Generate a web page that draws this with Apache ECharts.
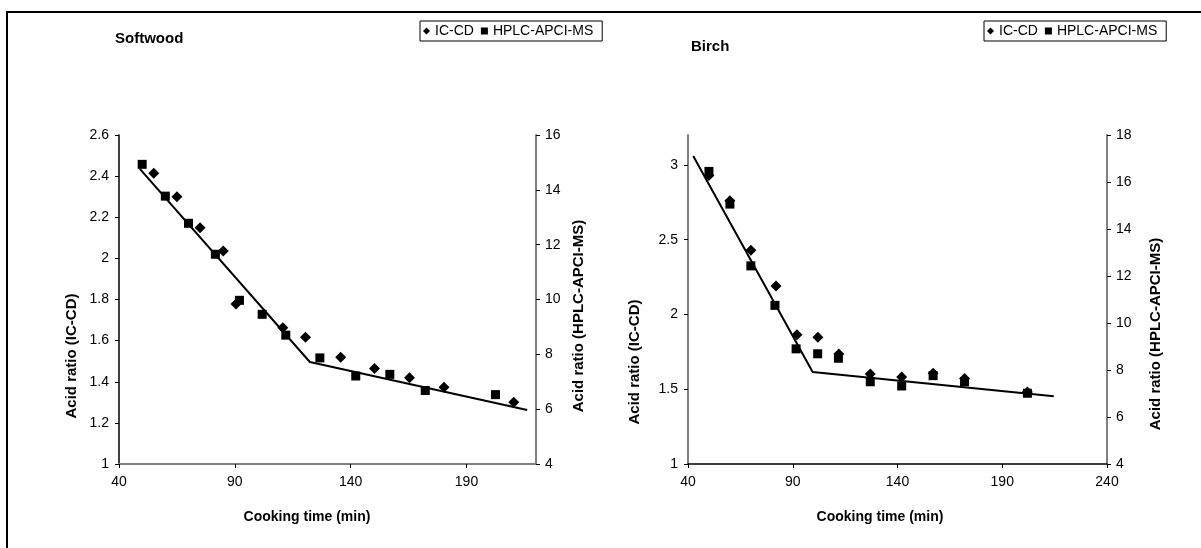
<!DOCTYPE html>
<html>
<head>
<meta charset="utf-8">
<title>Acid ratio vs cooking time</title>
<script src="https://cdn.jsdelivr.net/npm/echarts@6/dist/echarts.min.js"></script>
<style>
    html, body { margin: 0; padding: 0; background: #fff; }
    #chart { width: 1201px; height: 548px; }
</style>
</head>
<body>
<div id="chart"></div>
<script>
const FONT = "'Liberation Sans', Arial, sans-serif";
const SERIES_NAMES = ['IC-CD', 'HPLC-APCI-MS'];

// Softwood
const softwoodIcTime = [55, 65, 75, 85, 90.5, 110.7, 120.5, 135.7, 150.3, 165.4, 180.3, 210.4];
const softwoodIcRatio = [2.414, 2.3, 2.149, 2.036, 1.778, 1.663, 1.616, 1.519, 1.465, 1.42, 1.373, 1.3];
const softwoodMsTime = [50, 60, 70, 81.6, 92, 101.8, 112, 126.7, 142.2, 156.9, 172.2, 202.5];
const softwoodMsRatio = [14.93, 13.77, 12.78, 11.65, 9.97, 9.46, 8.7, 7.87, 7.21, 7.27, 6.68, 6.53];
const softwoodFitTime = [49, 122.4, 216.2];
const softwoodFitRatio = [2.435, 1.496, 1.263];

// Birch
const birchIcTime = [50, 60, 70, 82, 92, 102, 112, 127, 142, 157, 172, 202];
const birchIcRatio = [2.93, 2.76, 2.43, 2.19, 1.865, 1.847, 1.736, 1.602, 1.582, 1.607, 1.571, 1.482];
const birchMsTime = [50, 60, 70, 81.5, 91.6, 101.9, 111.8, 127, 142, 157, 172, 202];
const birchMsRatio = [16.45, 15.06, 12.43, 10.75, 8.9, 8.69, 8.5, 7.5, 7.32, 7.76, 7.5, 7.01];
const birchFitTime = [42.5, 99.5, 214.6];
const birchFitRatio = [3.06, 1.615, 1.453];

// tick labels
const softwoodTimeTicks = [40, 90, 140, 190];
const birchTimeTicks = [40, 90, 140, 190, 240];
const birchIcTicks = [1, 1.5, 2, 2.5, 3];

function zip(xs, ys) {
    return xs.map((x, i) => [x, ys[i]]);
}

function valueAxis(opts) {
    const axis = {
        type: 'value',
        gridIndex: opts.grid,
        position: opts.position,
        min: opts.min,
        max: opts.max,
        interval: opts.interval,
        splitLine: { show: false },
        axisLine: { show: true, onZero: false, lineStyle: { color: opts.color, width: opts.width } },
        axisTick: { show: true, length: 4, lineStyle: { color: '#000' } },
        axisLabel: { color: '#000', fontFamily: FONT, fontSize: 14, margin: opts.margin }
    };
    if (opts.ticks) {
        axis.axisLabel.customValues = opts.ticks;
        axis.axisTick.customValues = opts.ticks;
    }
    return axis;
}

function scatter(name, x, y, xi, yi) {
    return {
        name: name,
        type: 'scatter',
        xAxisIndex: xi,
        yAxisIndex: yi,
        symbol: name === 'IC-CD' ? 'diamond' : 'rect',
        symbolSize: name === 'IC-CD' ? 11 : 9,
        itemStyle: { color: '#000', opacity: 1 },
        data: zip(x, y)
    };
}

function fitLine(x, y, xi, yi) {
    return {
        type: 'line',
        xAxisIndex: xi,
        yAxisIndex: yi,
        showSymbol: false,
        symbol: 'none',
        lineStyle: { color: '#000', width: 2 },
        data: zip(x, y),
        z: 1
    };
}

function legend(left) {
    return {
        left: left,
        top: 21,
        orient: 'horizontal',
        backgroundColor: '#fff',
        borderColor: '#000',
        borderWidth: 1,
        borderRadius: 0,
        padding: [3, 9, 3, 3],
        itemWidth: 7,
        itemHeight: 7,
        itemGap: 7,
        textStyle: { color: '#000', fontFamily: FONT, fontSize: 14 },
        data: [
            { name: 'IC-CD', icon: 'diamond' },
            { name: 'HPLC-APCI-MS', icon: 'rect' }
        ]
    };
}

function titleText(text, x, y, rotated) {
    return {
        type: 'text',
        x: x,
        y: y,
        rotation: rotated ? Math.PI / 2 : 0,
        style: {
            text: text,
            fill: '#000',
            font: `bold ${rotated ? 15 : 14}px ${FONT}`,
            align: 'center',
            verticalAlign: 'middle'
        }
    };
}

const chart = echarts.init(document.getElementById('chart'));

chart.setOption({
    animation: false,
    backgroundColor: '#fff',
    title: [
        { text: 'Softwood', left: 115, top: 31, padding: 0, textStyle: { fontFamily: FONT, fontSize: 15, fontWeight: 'bold', color: '#000' } },
        { text: 'Birch', left: 691, top: 39, padding: 0, textStyle: { fontFamily: FONT, fontSize: 15, fontWeight: 'bold', color: '#000' } }
    ],
    legend: [legend(420), legend(984)],
    grid: [
        { left: 119, right: 665, top: 135, bottom: 84 },
        { left: 688, right: 94, top: 135, bottom: 84 }
    ],
    xAxis: [
        valueAxis({ grid: 0, position: 'bottom', min: 40, max: 220, interval: 50, color: '#808080', width: 2, margin: 11, ticks: softwoodTimeTicks }),
        valueAxis({ grid: 1, position: 'bottom', min: 40, max: 240, interval: 50, color: '#000', width: 1.5, margin: 11, ticks: birchTimeTicks })
    ],
    yAxis: [
        valueAxis({ grid: 0, position: 'left', min: 1, max: 2.6, interval: 0.2, color: '#000', width: 1.5, margin: 10 }),
        valueAxis({ grid: 0, position: 'right', min: 4, max: 16, interval: 2, color: '#808080', width: 2, margin: 9 }),
        valueAxis({ grid: 1, position: 'left', min: 1, max: 3.2, interval: 0.5, color: '#808080', width: 2, margin: 10, ticks: birchIcTicks }),
        valueAxis({ grid: 1, position: 'right', min: 4, max: 18, interval: 2, color: '#808080', width: 2, margin: 9 })
    ],
    series: [
        fitLine(softwoodFitTime, softwoodFitRatio, 0, 0),
        scatter(SERIES_NAMES[0], softwoodIcTime, softwoodIcRatio, 0, 0),
        scatter(SERIES_NAMES[1], softwoodMsTime, softwoodMsRatio, 0, 1),
        fitLine(birchFitTime, birchFitRatio, 1, 2),
        scatter(SERIES_NAMES[0], birchIcTime, birchIcRatio, 1, 2),
        scatter(SERIES_NAMES[1], birchMsTime, birchMsRatio, 1, 3)
    ],
    graphic: [
        {
            type: 'rect',
            shape: { x: 7, y: 12, width: 1300, height: 700 },
            style: { fill: 'none', stroke: '#000', lineWidth: 2 },
            silent: true
        },
        titleText('Acid ratio (IC-CD)', 72, 356, true),
        titleText('Acid ratio (HPLC-APCI-MS)', 579, 316, true),
        titleText('Cooking time (min)', 307, 517, false),
        titleText('Acid ratio (IC-CD)', 635, 362, true),
        titleText('Acid ratio (HPLC-APCI-MS)', 1156, 334, true),
        titleText('Cooking time (min)', 880, 517, false)
    ]
});
</script>
</body>
</html>
